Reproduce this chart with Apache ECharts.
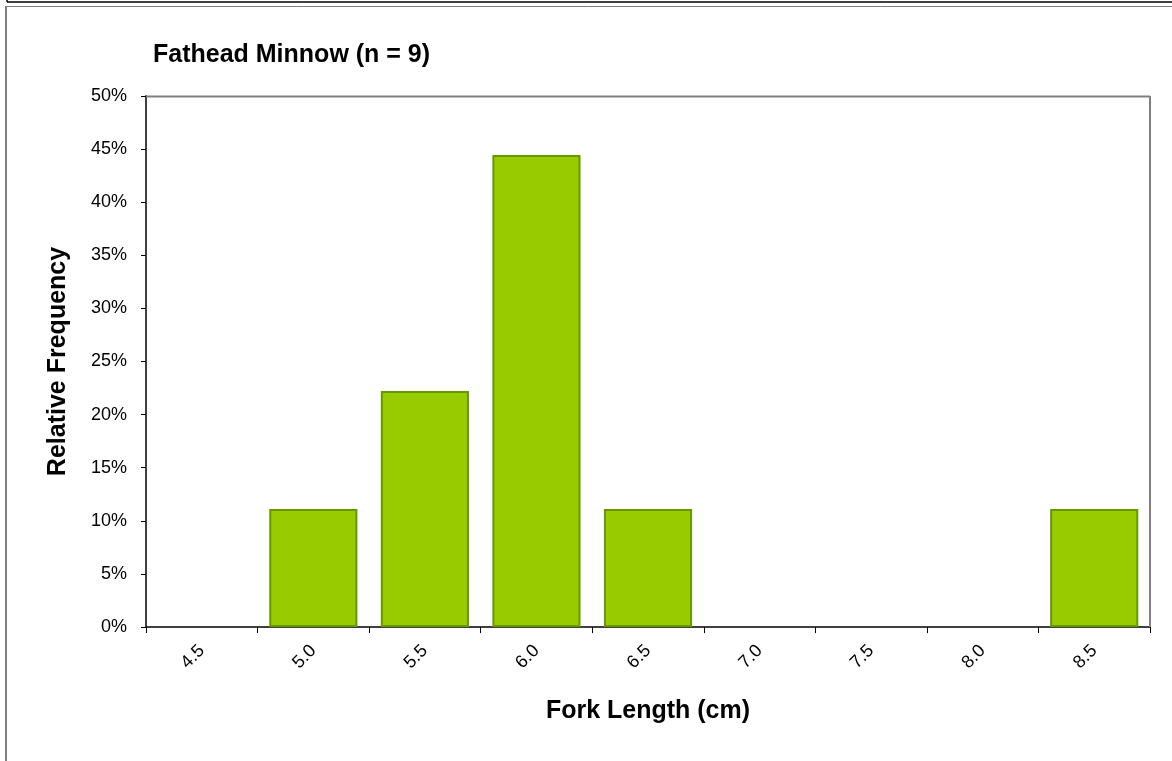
<!DOCTYPE html>
<html>
<head>
<meta charset="utf-8">
<script src="https://cdn.jsdelivr.net/npm/echarts@6/dist/echarts.min.js"></script>
<style>
  html, body { margin: 0; padding: 0; background: #fff; }
  #main { width: 1172px; height: 761px; }
</style>
</head>
<body>
<div id="main"></div>
<script>
// fork length bins (cm) and relative frequency (%)
const categories = ['4.5', '5.0', '5.5', '6.0', '6.5', '7.0', '7.5', '8.0', '8.5'];
const frequency = [0, 11.11, 22.22, 44.44, 11.11, 0, 0, 0, 11.11];
const yTicks = [0, 5, 10, 15, 20, 25, 30, 35, 40, 45, 50];

const font = 'Liberation Sans, Arial, sans-serif';
const chart = echarts.init(document.getElementById('main'));

chart.setOption({
  animation: false,
  title: {
    text: 'Fathead Minnow (n = 9)',
    left: 153,
    top: 43,
    padding: 0,
    textStyle: { fontFamily: font, fontSize: 25, fontWeight: 'bold', color: '#000' }
  },
  grid: { left: 146, top: 96, right: 22, bottom: 134 },
  graphic: [
    // frame pieces from the surrounding page
    { type: 'line', shape: { x1: 7, y1: 2, x2: 1172, y2: 2 }, style: { stroke: '#000', lineWidth: 1.5 } },
    { type: 'line', shape: { x1: 7, y1: 0, x2: 7, y2: 2 }, style: { stroke: '#000', lineWidth: 1.5 } },
    { type: 'line', shape: { x1: 5, y1: 6.5, x2: 1172, y2: 6.5 }, style: { stroke: '#808080', lineWidth: 1 } },
    { type: 'line', shape: { x1: 6, y1: 6, x2: 6, y2: 761 }, style: { stroke: '#808080', lineWidth: 2 } },
    // plot area border (top and right)
    { type: 'line', shape: { x1: 146, y1: 96.5, x2: 1150, y2: 96.5 }, style: { stroke: '#808080', lineWidth: 2 }, z: 10 },
    { type: 'line', shape: { x1: 1150, y1: 96, x2: 1150, y2: 627 }, style: { stroke: '#808080', lineWidth: 2 }, z: 10 }
  ],
  xAxis: {
    type: 'category',
    data: categories,
    boundaryGap: true,
    name: 'Fork Length (cm)',
    nameLocation: 'middle',
    nameGap: 72,
    nameTextStyle: { fontFamily: font, fontSize: 25, fontWeight: 'bold', color: '#000' },
    axisLine: { lineStyle: { color: '#000', width: 1.5 } },
    axisTick: { show: true, alignWithLabel: false, length: 6, lineStyle: { color: '#000' } },
    axisLabel: {
      rotate: 45,
      margin: 21,
      fontFamily: font,
      fontSize: 18,
      color: '#000'
    },
    splitLine: { show: false }
  },
  yAxis: {
    type: 'value',
    min: 0,
    max: 50,
    interval: 5,
    name: 'Relative Frequency',
    nameLocation: 'middle',
    nameGap: 75,
    nameTextStyle: { fontFamily: font, fontSize: 25, fontWeight: 'bold', color: '#000' },
    axisLine: { show: true, lineStyle: { color: '#404040', width: 2 } },
    axisTick: { show: true, length: 5, lineStyle: { color: '#000' } },
    axisLabel: {
      margin: 19,
      fontFamily: font,
      fontSize: 18,
      color: '#000',
      formatter: v => (yTicks.indexOf(v) >= 0 ? v + '%' : '')
    },
    splitLine: { show: false }
  },
  series: [{
    type: 'bar',
    barWidth: '79%',
    data: frequency.map(v => ({
      value: v,
      itemStyle: { borderWidth: v > 0 ? 2 : 0 }
    })),
    itemStyle: { color: '#99CC00', borderColor: '#669900', borderWidth: 2 }
  }]
});
</script>
</body>
</html>
